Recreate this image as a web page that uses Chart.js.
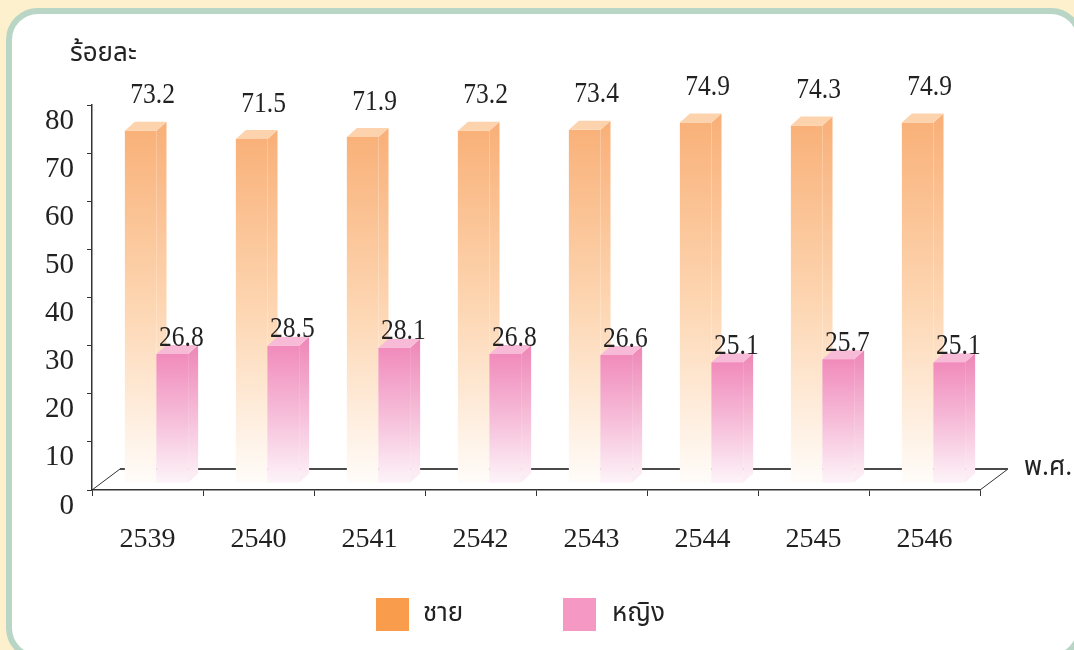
<!DOCTYPE html>
<html>
<head>
<meta charset="utf-8">
<script src="https://cdn.jsdelivr.net/npm/chart.js@4/dist/chart.umd.min.js"></script>
<style>
  html, body { margin: 0; padding: 0; }
  body { width: 1074px; height: 650px; background: #fdf0cc; position: relative; overflow: hidden; }
  .panel {
    position: absolute; left: 6px; top: 8px; width: 1077px; height: 652px;
    box-sizing: border-box; border: 6px solid #b9d5c6; border-radius: 32px; background: #fff;
  }
  #chart { position: absolute; left: 0; top: 0; }
</style>
</head>
<body>
<div class="panel"></div>
<canvas id="chart" width="1074" height="650"></canvas>
<script>
// percentage of male / female by year (B.E.)
const years = ['2539', '2540', '2541', '2542', '2543', '2544', '2545', '2546'];
const male = [73.2, 71.5, 71.9, 73.2, 73.4, 74.9, 74.3, 74.9];
const female = [26.8, 28.5, 28.1, 26.8, 26.6, 25.1, 25.7, 25.1];
const seriesNames = ['ชาย', 'หญิง'];
const legendColors = ['#f99c4c', '#f598c4'];

const SERIF = '"Liberation Serif", "DejaVu Serif", serif';
const THAI = '"Noto Sans Thai", "Noto Sans", "DejaVu Sans", sans-serif';

// 3D look: floor depth, where the bars stand in it, and bar thickness
const FLOOR = { x: 28, y: 21 };
const SHIFT = { x: 9, y: 7 };
const DEPTH = { x: 10, y: 9 };

const maleStops = [[0, '#f9b179'], [0.5, '#fdd6b2'], [1, '#fffcf9']];
const femaleStops = [[0, '#f18bbb'], [0.5, '#f6bdd9'], [1, '#fdf4f9']];

const faces = [
  { top: '#fdd3ad', side: [[0, '#f9af77'], [0.5, '#fdd4af'], [1, '#fffaf5']], label: { dx: 12, dy: -35 } },
  { top: '#f8bbd7', side: [[0, '#ee86b6'], [0.5, '#f5b8d5'], [1, '#fcecf4']], label: { dx: 9, dy: -16 } }
];

function barGradient(stops) {
  return function(context) {
    const chart = context.chart;
    if (!chart.chartArea || context.type !== 'data') return stops[0][1];
    const y = chart.scales.y;
    const top = y.getPixelForValue(context.raw);
    const base = y.getPixelForValue(0);
    const g = chart.ctx.createLinearGradient(0, top, 0, base);
    stops.forEach(([p, c]) => g.addColorStop(p, c));
    return g;
  };
}

function drawFaces(ctx, meta, look, clipTops) {
  meta.data.forEach((bar, i) => {
    const { x, y, base, width } = bar.getProps(['x', 'y', 'base', 'width'], true);
    const l = x - width / 2, r = x + width / 2;

    ctx.save();
    if (clipTops) {
      // the neighbouring front bar hides everything below its top
      ctx.beginPath();
      ctx.rect(r - 1, 0, DEPTH.x + 2, clipTops[i]);
      ctx.clip();
    }
    const side = ctx.createLinearGradient(0, y - DEPTH.y, 0, base - DEPTH.y);
    look.side.forEach(([p, c]) => side.addColorStop(p, c));
    ctx.fillStyle = side;
    ctx.beginPath();
    ctx.moveTo(r, y);
    ctx.lineTo(r + DEPTH.x, y - DEPTH.y);
    ctx.lineTo(r + DEPTH.x, base - DEPTH.y);
    ctx.lineTo(r, base);
    ctx.closePath();
    ctx.fill();
    ctx.restore();

    ctx.fillStyle = look.top;
    ctx.beginPath();
    ctx.moveTo(l, y);
    ctx.lineTo(r, y);
    ctx.lineTo(r + DEPTH.x, y - DEPTH.y);
    ctx.lineTo(l + DEPTH.x, y - DEPTH.y);
    ctx.closePath();
    ctx.fill();
  });
}

function drawValues(ctx, meta, values, look) {
  ctx.save();
  ctx.fillStyle = '#222';
  ctx.font = '29px ' + SERIF;
  ctx.textAlign = 'center';
  ctx.textBaseline = 'middle';
  meta.data.forEach((bar, i) => {
    // slightly narrowed numerals
    ctx.save();
    ctx.translate(bar.x + look.label.dx, bar.y + look.label.dy);
    ctx.scale(0.88, 1);
    ctx.fillText(values[i].toFixed(1), 0, 0);
    ctx.restore();
  });
  ctx.restore();
}

const bar3d = {
  id: 'bar3d',
  beforeDatasetsDraw(chart) {
    const { ctx, chartArea: a } = chart;
    ctx.save();
    ctx.strokeStyle = '#333';
    ctx.lineWidth = 1;
    ctx.beginPath();
    ctx.moveTo(a.left, a.bottom);
    ctx.lineTo(a.left + FLOOR.x, a.bottom - FLOOR.y);
    ctx.moveTo(a.right, a.bottom);
    ctx.lineTo(a.right + FLOOR.x, a.bottom - FLOOR.y);
    ctx.stroke();
    ctx.strokeStyle = '#4a4a4a';
    ctx.lineWidth = 2;
    ctx.beginPath();
    ctx.moveTo(a.left + FLOOR.x, a.bottom - FLOOR.y);
    ctx.lineTo(a.right + FLOOR.x, a.bottom - FLOOR.y);
    ctx.stroke();
    ctx.restore();

    ctx.save();
    ctx.translate(SHIFT.x, -SHIFT.y);
  },
  afterDatasetsDraw(chart) {
    const ctx = chart.ctx;
    const maleMeta = chart.getDatasetMeta(0);
    const femaleMeta = chart.getDatasetMeta(1);
    drawFaces(ctx, maleMeta, faces[0], femaleMeta.data.map(b => b.y));
    femaleMeta.data.forEach(b => b.draw(ctx));
    drawFaces(ctx, femaleMeta, faces[1]);
    drawValues(ctx, maleMeta, male, faces[0]);
    drawValues(ctx, femaleMeta, female, faces[1]);
    ctx.restore();
  },
  afterDraw(chart) {
    const ctx = chart.ctx;
    ctx.save();
    ctx.fillStyle = '#222';
    ctx.font = '26px ' + THAI;
    ctx.textBaseline = 'middle';
    ctx.textAlign = 'left';
    ctx.fillText('ร้อยละ', 70, 56);
    ctx.fillText('พ.ศ.', 1024, 470);

    // legend
    seriesNames.forEach((name, i) => {
      const bx = i === 0 ? 376 : 563;
      ctx.fillStyle = legendColors[i];
      ctx.fillRect(bx, 598, 33, 33);
      ctx.fillStyle = '#222';
      ctx.fillText(name, bx + (i === 0 ? 47 : 49), 616);
    });
    ctx.restore();
  }
};

new Chart(document.getElementById('chart'), {
  type: 'bar',
  data: {
    labels: years,
    datasets: [
      {
        label: seriesNames[0],
        data: male,
        backgroundColor: barGradient(maleStops),
        categoryPercentage: 0.57,
        barPercentage: 1,
        clip: false
      },
      {
        label: seriesNames[1],
        data: female,
        backgroundColor: barGradient(femaleStops),
        categoryPercentage: 0.57,
        barPercentage: 1,
        clip: false
      }
    ]
  },
  options: {
    responsive: false,
    animation: false,
    devicePixelRatio: 1,
    events: [],
    layout: {
      padding: { left: 32, right: 94, top: 105, bottom: 80 }
    },
    plugins: {
      legend: { display: false },
      tooltip: { enabled: false }
    },
    scales: {
      y: {
        min: 0,
        max: 80,
        afterFit(scale) { scale.width = 60; },
        border: { display: true, color: '#333', width: 1.5 },
        grid: { drawOnChartArea: false, drawTicks: true, tickLength: 5, color: '#333' },
        ticks: {
          stepSize: 10,
          padding: 13,
          labelOffset: 16,
          color: '#222',
          font: { family: SERIF, size: 29 }
        }
      },
      x: {
        afterFit(scale) { scale.height = 80; },
        border: { display: true, color: '#333', width: 1.5 },
        grid: { drawOnChartArea: false, drawTicks: true, tickLength: 6, color: '#333', offset: true },
        ticks: {
          padding: 27,
          color: '#222',
          font: { family: SERIF, size: 28 }
        }
      }
    }
  },
  plugins: [bar3d]
});
</script>
</body>
</html>
